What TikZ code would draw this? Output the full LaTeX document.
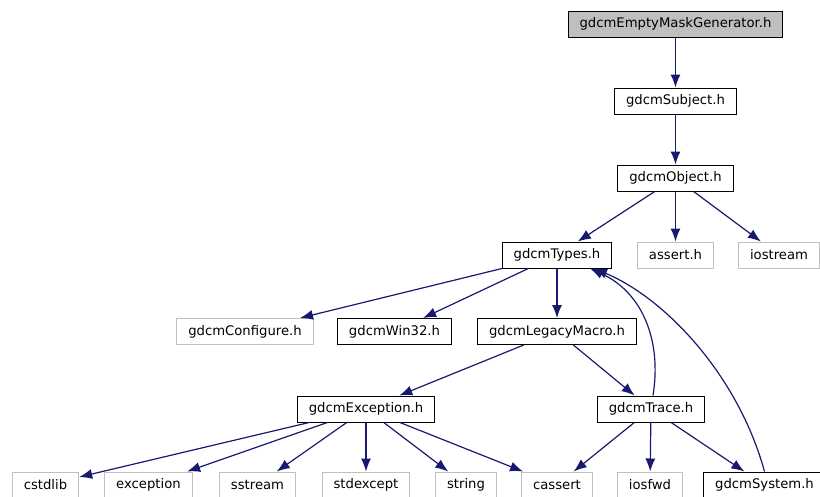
\documentclass[tikz,border=0pt]{standalone}
\usepackage{fontspec}
\setmainfont{DejaVu Sans}
\usepackage{xcolor}
\usetikzlibrary{arrows.meta}
\definecolor{edgeblue}{HTML}{191970}
\definecolor{extgray}{HTML}{BFBFBF}
\tikzset{
  filebox/.style={rectangle,draw=black,line width=1pt,minimum height=26pt,inner xsep=11.5pt,inner ysep=0pt,font=\fontsize{13.2pt}{15pt}\selectfont},
  extbox/.style={filebox,draw=extgray},
  rootbox/.style={filebox,fill=extgray},
  dep/.style={-{Latex[length=13pt,width=10pt]},line width=1.2pt,draw=edgeblue}
}

\begin{document}
\begin{tikzpicture}[x=1pt,y=-1pt]
  \useasboundingbox (0,0) rectangle (820,496);

  \node[rootbox] (emg) at (675.5,24) {gdcmEmptyMaskGenerator.h};
  \node[filebox] (subject) at (675.5,101) {gdcmSubject.h};
  \node[filebox] (object) at (675.5,178) {gdcmObject.h};

  \node[filebox] (types) at (557,255) {gdcmTypes.h};
  \node[extbox] (assert) at (675.5,255) {assert.h};
  \node[extbox] (iostream) at (779,255) {iostream};

  \node[extbox] (configure) at (245,331.5) {gdcmConfigure.h};
  \node[filebox] (win32) at (394.5,331.5) {gdcmWin32.h};
  \node[filebox] (legacy) at (557,331.5) {gdcmLegacyMacro.h};

  \node[filebox] (exception) at (366,409) {gdcmException.h};
  \node[filebox] (trace) at (651,409) {gdcmTrace.h};

  \node[extbox] (cstdlib) at (45.5,485) {cstdlib};
  \node[extbox] (stdexc) at (148.5,485) {exception};
  \node[extbox] (sstream) at (257.5,485) {sstream};
  \node[extbox] (stdexcept) at (366,485) {stdexcept};
  \node[extbox] (string) at (466,485) {string};
  \node[extbox] (cassert) at (557,485) {cassert};
  \node[extbox] (iosfwd) at (650,485) {iosfwd};
  \node[filebox] (system) at (764.5,485) {gdcmSystem.h};

  \draw[dep] (emg) -- (subject);
  \draw[dep] (subject) -- (object);
  \draw[dep] (object) -- (types);
  \draw[dep] (object) -- (assert);
  \draw[dep] (object) -- (iostream);
  \draw[dep] (types) -- (configure);
  \draw[dep] (types) -- (win32);
  \draw[dep] (types) -- (legacy);
  \draw[dep] (legacy) -- (exception);
  \draw[dep] (legacy) -- (trace);
  \draw[dep] (exception) -- (cstdlib);
  \draw[dep] (exception) -- (stdexc);
  \draw[dep] (exception) -- (sstream);
  \draw[dep] (exception) -- (stdexcept);
  \draw[dep] (exception) -- (string);
  \draw[dep] (exception) -- (cassert);
  \draw[dep] (trace) -- (cassert);
  \draw[dep] (trace) -- (iosfwd);
  \draw[dep] (trace) -- (system);
  % back edges into gdcmTypes.h
  \draw[dep] ([xshift=2pt]trace.north) .. controls (662,340) and (642,292) .. ([xshift=33pt]types.south);
  \draw[dep] (system.north) .. controls (738,375) and (665,298) .. ([xshift=37pt]types.south);
\end{tikzpicture}
\end{document}
